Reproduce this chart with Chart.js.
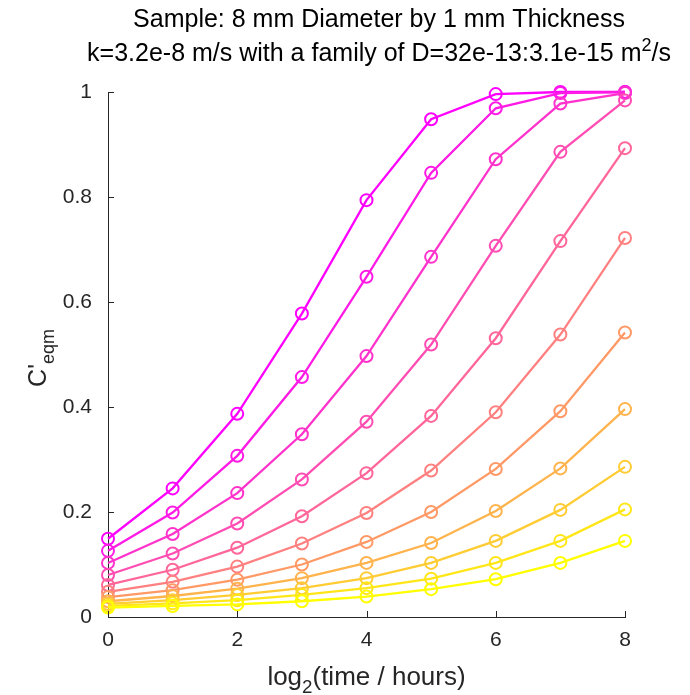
<!DOCTYPE html>
<html>
<head>
    <title>C'eqm vs log2(time)</title>
    <style>
        body {
            margin: 0;
            background: #ffffff;
        }
        #chart-container {
            width: 690px;
            height: 695px;
        }
    </style>
    <script src="https://cdn.jsdelivr.net/npm/chart.js"></script>
</head>
<body>
    <div id="chart-container">
        <canvas id="eqmChart" width="690" height="695"></canvas>
    </div>
    <script>
        // x values: log2(time / hours)
        const logTime = [0, 1, 2, 3, 4, 5, 6, 7, 8];
        const xTicks = [0, 2, 4, 6, 8];
        const yTicks = [0, 0.2, 0.4, 0.6, 0.8, 1];

        // one curve per D, from D=32e-13 (magenta, top) down to 3.1e-15 (yellow, bottom)
        const curveD01 = [0.149, 0.245, 0.387, 0.578, 0.794, 0.948, 0.996, 1.000, 1.000];
        const curveD02 = [0.126, 0.199, 0.307, 0.457, 0.648, 0.846, 0.969, 0.998, 1.000];
        const curveD03 = [0.103, 0.158, 0.236, 0.348, 0.497, 0.686, 0.872, 0.978, 0.998];
        const curveD04 = [0.080, 0.121, 0.178, 0.262, 0.372, 0.519, 0.707, 0.886, 0.984];
        const curveD05 = [0.061, 0.090, 0.132, 0.192, 0.274, 0.383, 0.531, 0.716, 0.893];
        const curveD06 = [0.048, 0.067, 0.096, 0.140, 0.198, 0.279, 0.390, 0.538, 0.722];
        const curveD07 = [0.038, 0.051, 0.071, 0.100, 0.143, 0.200, 0.282, 0.392, 0.542];
        const curveD08 = [0.030, 0.040, 0.054, 0.074, 0.103, 0.141, 0.202, 0.283, 0.396];
        const curveD09 = [0.025, 0.032, 0.042, 0.055, 0.074, 0.103, 0.145, 0.204, 0.286];
        const curveD10 = [0.021, 0.026, 0.032, 0.042, 0.055, 0.073, 0.103, 0.145, 0.205];
        const curveD11 = [0.018, 0.021, 0.024, 0.030, 0.039, 0.053, 0.072, 0.103, 0.145];

        const curves = [curveD01, curveD02, curveD03, curveD04, curveD05, curveD06,
                        curveD07, curveD08, curveD09, curveD10, curveD11];

        const FONT = "'Liberation Sans', Arial, sans-serif";
        const AXIS_COLOR = '#262626';

        // matlab "spring" colormap
        function springColor(i, n) {
            const t = n > 1 ? i / (n - 1) : 0;
            return `rgb(255, ${Math.round(255 * t)}, ${Math.round(255 * (1 - t))})`;
        }

        const datasets = curves.map((curve, i) => {
            const color = springColor(i, curves.length);
            return {
                label: 'D' + (i + 1),
                data: logTime.map((x, k) => ({ x: x, y: curve[k] })),
                borderColor: color,
                backgroundColor: 'rgba(0,0,0,0)',
                borderWidth: 2.3,
                pointRadius: 6,
                pointBorderWidth: 2,
                pointBorderColor: color,
                pointBackgroundColor: 'rgba(0,0,0,0)',
                tension: 0,
                clip: false,
                order: curves.length - i
            };
        });

        // text with sub/superscripts, centred on x
        function drawRich(ctx, parts, x, y, size) {
            let total = 0;
            const widths = parts.map(p => {
                const s = p.shift ? size * 0.72 : size;
                ctx.font = `${s}px ${FONT}`;
                const w = ctx.measureText(p.text).width;
                total += w;
                return w;
            });
            let cx = x - total / 2;
            ctx.textAlign = 'left';
            ctx.textBaseline = 'alphabetic';
            parts.forEach((p, i) => {
                const s = p.shift ? size * 0.72 : size;
                let dy = 0;
                if (p.shift === 'sub') dy = size * 0.3;
                if (p.shift === 'sup') dy = -size * 0.42;
                ctx.font = `${s}px ${FONT}`;
                ctx.fillText(p.text, cx, y + dy);
                cx += widths[i];
            });
        }

        const decorPlugin = {
            id: 'decor',
            afterDraw(chart) {
                const ctx = chart.ctx;
                const area = chart.chartArea;
                const xs = chart.scales.x;
                const ys = chart.scales.y;
                const tickLen = 6;

                ctx.save();
                // inward tick marks
                ctx.strokeStyle = AXIS_COLOR;
                ctx.lineWidth = 1;
                ctx.beginPath();
                xTicks.forEach(v => {
                    const px = Math.round(xs.getPixelForValue(v)) + 0.5;
                    ctx.moveTo(px, area.bottom);
                    ctx.lineTo(px, area.bottom - tickLen);
                });
                yTicks.forEach(v => {
                    const py = Math.round(ys.getPixelForValue(v)) + 0.5;
                    ctx.moveTo(area.left, py);
                    ctx.lineTo(area.left + tickLen, py);
                });
                ctx.stroke();

                // title
                ctx.fillStyle = '#000000';
                const cx = 379;
                drawRich(ctx, [{ text: 'Sample: 8 mm Diameter by 1 mm Thickness' }], cx, 27, 25);
                drawRich(ctx, [
                    { text: 'k=3.2e-8 m/s with a family of D=32e-13:3.1e-15 m' },
                    { text: '2', shift: 'sup' },
                    { text: '/s' }
                ], cx, 61, 25);

                // x axis label
                ctx.fillStyle = AXIS_COLOR;
                drawRich(ctx, [
                    { text: 'log' },
                    { text: '2', shift: 'sub' },
                    { text: '(time / hours)' }
                ], (area.left + area.right) / 2, 685, 26);

                // y axis label
                ctx.translate(46, 358);
                ctx.rotate(-Math.PI / 2);
                drawRich(ctx, [
                    { text: "C'" },
                    { text: 'eqm', shift: 'sub' }
                ], 0, 0, 25);
                ctx.restore();
            }
        };

        new Chart(document.getElementById('eqmChart').getContext('2d'), {
            type: 'line',
            data: { datasets: datasets },
            options: {
                responsive: false,
                animation: false,
                devicePixelRatio: 1,
                events: [],
                layout: {
                    padding: { left: 0, right: 65, top: 92, bottom: 0 }
                },
                plugins: {
                    legend: { display: false },
                    title: { display: false },
                    tooltip: { enabled: false }
                },
                scales: {
                    x: {
                        type: 'linear',
                        min: 0,
                        max: 8,
                        afterFit: s => { s.height = 78; },
                        afterBuildTicks: s => { s.ticks = xTicks.map(v => ({ value: v })); },
                        grid: { drawOnChartArea: false, drawTicks: false },
                        border: { display: true, color: AXIS_COLOR, width: 1 },
                        ticks: {
                            padding: 11,
                            color: AXIS_COLOR,
                            font: { family: FONT, size: 21 },
                            callback: v => String(v)
                        }
                    },
                    y: {
                        type: 'linear',
                        min: 0,
                        max: 1,
                        afterFit: s => { s.width = 108; },
                        afterBuildTicks: s => { s.ticks = yTicks.map(v => ({ value: v })); },
                        grid: { drawOnChartArea: false, drawTicks: false },
                        border: { display: true, color: AXIS_COLOR, width: 1 },
                        ticks: {
                            padding: 16,
                            color: AXIS_COLOR,
                            font: { family: FONT, size: 21 },
                            callback: v => String(Math.round(v * 10) / 10)
                        }
                    }
                }
            },
            plugins: [decorPlugin]
        });
    </script>
</body>
</html>
